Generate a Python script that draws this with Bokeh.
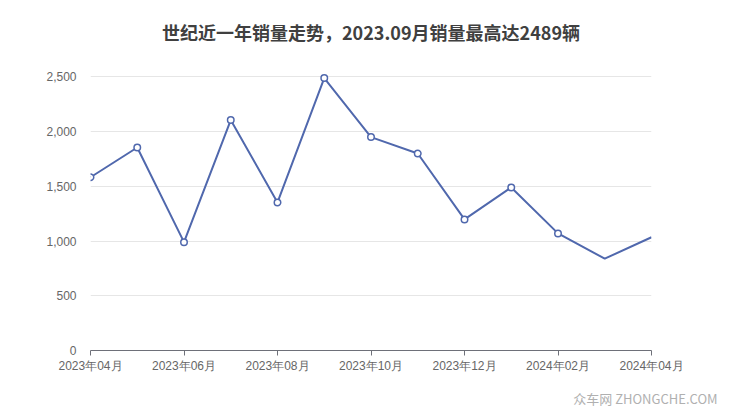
from bokeh.plotting import figure
from bokeh.models import FixedTicker, NumeralTickFormatter, Range1d, Title, ColumnDataSource
from bokeh.embed import file_html
from bokeh.resources import INLINE

months = ["2023年04月", "2023年05月", "2023年06月", "2023年07月", "2023年08月", "2023年09月",
          "2023年10月", "2023年11月", "2023年12月", "2024年01月", "2024年02月", "2024年03月", "2024年04月"]
sales = [1583, 1855, 990, 2105, 1353, 2489, 1950, 1800, 1198, 1490, 1070, 839, 1035]
y_ticks = [0, 500, 1000, 1500, 2000, 2500]
title_text = "世纪近一年销量走势，2023.09月销量最高达2489辆"
watermark = "众车网  ZHONGCHE.COM"

idx = list(range(len(months)))
src = ColumnDataSource(dict(x=idx, y=sales))
msrc = ColumnDataSource(dict(x=idx[:11], y=sales[:11]))

H = 410
p = figure(width=724, height=H, output_backend="svg", toolbar_location=None,
           x_range=Range1d(0, len(months) - 1), y_range=Range1d(0, 2540),
           min_border_left=90, min_border_right=73, min_border_top=72, min_border_bottom=H - 350)

p.title.text = title_text
p.title.align = "center"
p.title.vertical_align = "bottom"
p.title.text_font = "Noto Sans CJK SC"
p.title.text_font_size = "18px"
p.title.text_font_style = "bold"
p.title.text_color = "#404040"
p.title.offset = 0
p.title.standoff = 0

# spacer between title and plot area
p.add_layout(Title(text=" ", text_font_size="10px", standoff=15), "above")

p.outline_line_color = None
p.background_fill_color = "white"
p.border_fill_color = "white"

p.line("x", "y", source=src, line_color="#5068ad", line_width=2)
p.scatter("x", "y", source=msrc, marker="circle", size=6.5, fill_color="white",
          line_color="#5068ad", line_width=1.5)

# x axis
p.xaxis.ticker = FixedTicker(ticks=idx[::2])
p.xaxis.major_label_overrides = {i: months[i] for i in idx}
p.xaxis.axis_line_color = "#6e7079"
p.xaxis.major_tick_line_color = "#6e7079"
p.xaxis.major_tick_in = 0
p.xaxis.major_tick_out = 5
p.xaxis.minor_tick_line_color = None
p.xaxis.major_label_text_font = "Liberation Sans"
p.xaxis.major_label_text_font_size = "12px"
p.xaxis.major_label_text_color = "#666666"
p.xaxis.major_label_standoff = 3
p.xgrid.grid_line_color = None

# y axis
p.yaxis.ticker = FixedTicker(ticks=y_ticks)
p.yaxis.formatter = NumeralTickFormatter(format="0,0")
p.yaxis.axis_line_color = None
p.yaxis.major_tick_line_color = None
p.yaxis.minor_tick_line_color = None
p.yaxis.major_label_text_font = "Liberation Sans"
p.yaxis.major_label_text_font_size = "12px"
p.yaxis.major_label_text_color = "#666666"
p.yaxis.major_label_standoff = 8
p.ygrid.grid_line_color = "#e6e6e6"
p.ygrid.grid_line_width = 1

# spacer between axis labels and watermark
p.add_layout(Title(text=" ", text_font_size="1px", standoff=8), "below")
wm = Title(text=watermark, align="right", offset=-69, standoff=0, vertical_align="bottom",
           text_font="Noto Sans CJK SC", text_font_size="13px", text_font_style="normal",
           text_color="#b0b0b0")
p.add_layout(wm, "below")

open("out.html", "w").write(file_html(p, INLINE))
